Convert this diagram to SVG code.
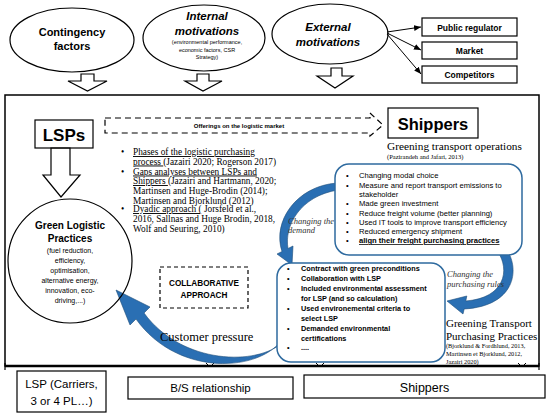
<svg xmlns="http://www.w3.org/2000/svg" width="550" height="415" viewBox="0 0 550 415">
<defs>
<style>
.sans{font-family:"Liberation Sans",Arial,sans-serif;}
.serif{font-family:"Liberation Serif","Times New Roman",serif;}
.b{font-weight:bold;}
.it{font-style:italic;}
.ln{fill:none;stroke:#000;stroke-width:1.2;}
.hollow{fill:#fff;stroke:#000;stroke-width:1.2;}
.rbox{fill:#fff;stroke:#2e6a9f;stroke-width:1.5;}
.blue{fill:#2a6fb3;stroke:#1f4e79;stroke-width:0.6;}
.u{text-decoration:underline;}
</style>
<marker id="ah" markerWidth="8" markerHeight="8" refX="7" refY="4" orient="auto" markerUnits="userSpaceOnUse">
<path d="M0,1 L7,4 L0,7 Z" fill="#000"/>
</marker>
</defs>
<rect width="550" height="415" fill="#fff"/>

<!-- top ellipses -->
<g id="contingency">
<ellipse cx="72" cy="40" rx="62" ry="32" class="ln"/>
<text x="72" y="36" text-anchor="middle" class="sans b" font-size="11">Contingency</text>
<text x="72" y="50" text-anchor="middle" class="sans b" font-size="11">factors</text>
</g>
<g id="internal">
<ellipse cx="204" cy="38" rx="61" ry="33" class="ln"/>
<text x="207" y="20" text-anchor="middle" class="sans b it" font-size="11.5">Internal</text>
<text x="207" y="35" text-anchor="middle" class="sans b it" font-size="11.5">motivations</text>
<text x="207" y="44" text-anchor="middle" class="sans" font-size="5.5">(environmental performance,</text>
<text x="207" y="51.5" text-anchor="middle" class="sans" font-size="5.5">economic factors, CSR</text>
<text x="207" y="59" text-anchor="middle" class="sans" font-size="5.5">Strategy)</text>
</g>
<g id="external">
<ellipse cx="330" cy="34" rx="58" ry="30" class="ln"/>
<text x="328" y="31" text-anchor="middle" class="sans b it" font-size="11.5">External</text>
<text x="328" y="46" text-anchor="middle" class="sans b it" font-size="11.5">motivations</text>
</g>
<g id="public-regulator">
<rect x="422" y="18" width="95" height="18" class="ln"/>
<text x="469.5" y="30.5" text-anchor="middle" class="sans b" font-size="8.5">Public regulator</text>
</g>
<g id="market">
<rect x="422" y="42" width="95" height="17" class="ln"/>
<text x="469.5" y="54" text-anchor="middle" class="sans b" font-size="8.5">Market</text>
</g>
<g id="competitors">
<rect x="422" y="66" width="95" height="17" class="ln"/>
<text x="469.5" y="78" text-anchor="middle" class="sans b" font-size="8.5">Competitors</text>
</g>

<!-- main frame -->
<g id="frame">
<rect x="5" y="95" width="534" height="271" fill="none" stroke="#000" stroke-width="1.5"/>
<line x1="5" y1="366" x2="539" y2="366" stroke="#000" stroke-width="2.5"/>
<path d="M5,363 L5,370 M539,363 L539,370" stroke="#000" stroke-width="1.2"/>
<path d="M206,363 L210,367 L214,363 M316,363 L320,367 L324,363 M518,363 L522,367 L526,363" fill="none" stroke="#000" stroke-width="1"/>
</g>

<g id="connectors">
<line x1="387" y1="32" x2="421" y2="27" stroke="#000" stroke-width="1" marker-end="url(#ah)"/>
<line x1="387" y1="33" x2="421" y2="50" stroke="#000" stroke-width="1" marker-end="url(#ah)"/>
<line x1="387" y1="34" x2="421" y2="74" stroke="#000" stroke-width="1" marker-end="url(#ah)"/>
<polygon class="hollow" points="81,74 94,74 94,81 107,81 87.5,91 68,81 81,81"/>
<polygon class="hollow" points="197,74 209,74 209,81 222,81 203,91 185,81 197,81"/>
<polygon class="hollow" points="331,68 342,68 342,76 353,76 335,88 317,76 331,76"/>
<polygon class="hollow" points="51,148 70,148 70,175 80,175 61,197 43,175 51,175"/>
<path d="M105,118 L370,118 L370,113 L383,125 L370,136 L370,133 L105,133 Z" fill="none" stroke="#000" stroke-width="1.2" stroke-dasharray="6,4"/>
<path class="blue" d="M337,183 C296,186 272,222 282,251.5 L277,254 L292,265 L293,246 L288,248.5 C284,226 300,196 338,190 Z"/>
<path class="blue" d="M498,252 C510,270 505,298 465.8,301 L466.8,296 L447,301 L463,314 L464.2,309 C515,306 520,270 507,250 Z"/>
<path class="blue" d="M283,338 C262,372 178,378 136,319 L130,325 L116,290 L150,307 L144,313 C182,365 258,366 283,342 Z"/>
</g>

<g id="offerings-label">
<text x="239" y="128" text-anchor="middle" class="sans b" font-size="6">Offerings on the logistic market</text>
</g>

<g id="lsps">
<rect x="35" y="120" width="58" height="28" class="ln"/>
<text x="64" y="141" text-anchor="middle" class="sans b" font-size="17">LSPs</text>
</g>

<g id="shippers">
<rect x="388" y="108" width="90" height="30" class="ln"/>
<text x="433" y="130" text-anchor="middle" class="sans b" font-size="16.5">Shippers</text>
<text x="387" y="150" class="serif" font-size="11.3">Greening  transport operations</text>
<text x="387" y="159" class="serif" font-size="6.5">(Pazirandeh and Jafari, 2013)</text>
</g>

<g id="green-logistic-practices">
<circle cx="70" cy="261" r="62" class="ln" fill="#fff"/>
<text x="70" y="229" text-anchor="middle" class="sans b" font-size="10">Green Logistic</text>
<text x="70" y="242" text-anchor="middle" class="sans b" font-size="10">Practices</text>
<g class="sans" font-size="7" text-anchor="middle">
<text x="70" y="253">(fuel reduction,</text>
<text x="70" y="263">efficiency,</text>
<text x="70" y="273">optimisation,</text>
<text x="70" y="283">alternative energy,</text>
<text x="70" y="293">innovation, eco-</text>
<text x="70" y="303">driving,...)</text>
</g>
</g>

<g id="literature" class="serif" font-size="9.3">
<text x="121" y="155">•</text>
<text x="133" y="155"><tspan class="u">Phases of the logistic purchasing</tspan></text>
<text x="133" y="164.5"><tspan class="u">process </tspan>(Jazairi 2020; Rogerson 2017)</text>
<text x="121" y="174.5">•</text>
<text x="133" y="174.5"><tspan class="u">Gaps analyses between LSPs and</tspan></text>
<text x="133" y="184"><tspan class="u">Shippers </tspan>(Jazairi and Hartmann,  2020;</text>
<text x="133" y="193.5">Martinsen and Huge-Brodin (2014);</text>
<text x="133" y="203.5">Martinsen and Bjorklund (2012)</text>
<text x="121" y="212">•</text>
<text x="133" y="212"><tspan class="u">Dyadic approach (</tspan> Jorsfeld et al.,</text>
<text x="133" y="221.5">2016, Sallnas and Huge Brodin, 2018,</text>
<text x="133" y="231.5">Wolf and Seuring, 2010)</text>
</g>

<g id="collaborative-approach">
<rect x="160" y="267" width="88" height="41" fill="none" stroke="#000" stroke-width="1.2" stroke-dasharray="4,3"/>
<text x="204" y="286" text-anchor="middle" class="sans b" font-size="8.2">COLLABORATIVE</text>
<text x="204" y="298" text-anchor="middle" class="sans b" font-size="8.2">APPROACH</text>
</g>

<g id="customer-pressure">
<text x="160" y="341" class="serif" font-size="12.5">Customer pressure</text>
</g>

<g id="changing-demand" class="serif it" font-size="8.5" fill="#333">
<text x="288" y="224">Changing the</text>
<text x="288" y="233">demand</text>
</g>

<g id="greening-operations-box">
<rect x="335" y="164" width="187" height="91" rx="14" class="rbox"/>
<g class="sans" font-size="7.6">
<text x="346" y="177.5">•</text><text x="359" y="177.5">Changing modal choice</text>
<text x="346" y="187.5">•</text><text x="359" y="187.5">Measure and report transport emissions to</text>
<text x="359" y="196.5">stakeholder</text>
<text x="346" y="206">•</text><text x="359" y="206">Made green investment</text>
<text x="346" y="215.5">•</text><text x="359" y="215.5">Reduce freight volume (better planning)</text>
<text x="346" y="225">•</text><text x="359" y="225">Used IT tools to improve transport efficiency</text>
<text x="346" y="234">•</text><text x="359" y="234">Reduced emergency shipment</text>
<text x="346" y="243">•</text><text x="359" y="243" class="b u">align their freight purchasing practices</text>
</g>
</g>

<g id="purchasing-practices-box">
<rect x="277" y="263" width="168" height="99" rx="14" class="rbox"/>
<g class="sans b" font-size="7.3">
<text x="287" y="270.5">•</text><text x="301" y="270.5">Contract with green preconditions</text>
<text x="287" y="280.5">•</text><text x="301" y="280.5"> Collaboration with LSP</text>
<text x="287" y="290.5">•</text><text x="301" y="290.5">Included environmental assessment</text>
<text x="301" y="300.5">for LSP (and so calculation)</text>
<text x="287" y="310.5">•</text><text x="301" y="310.5">Used environemental criteria to</text>
<text x="301" y="320.5">select LSP</text>
<text x="287" y="330.5">•</text><text x="301" y="330.5">Demanded environmental</text>
<text x="301" y="340.5">certifications</text>
<text x="287" y="350">•</text><text x="301" y="350">....</text>
</g>
</g>

<g id="changing-rules" class="serif it" font-size="8.5" fill="#333">
<text x="447" y="277">Changing the</text>
<text x="447" y="287">purchasing rules</text>
</g>

<g id="greening-purchasing">
<text x="446" y="327" class="serif" font-size="11">Greening Transport</text>
<text x="446" y="340" class="serif" font-size="11">Purchasing Practices</text>
<text x="446" y="348" class="serif" font-size="6.3">(Bjorklund  &amp; Fordhlund,  2013,</text>
<text x="446" y="356" class="serif" font-size="6.3">Martinsen et Bjorklund,  2012,</text>
<text x="446" y="364" class="serif" font-size="6.3">Jazairi 2020)</text>
</g>

<g id="lsp-bottom">
<rect x="17" y="371" width="89" height="41" class="ln"/>
<text x="61.5" y="388" text-anchor="middle" class="sans" font-size="11.5">LSP (Carriers,</text>
<text x="61.5" y="405" text-anchor="middle" class="sans" font-size="11.5">3 or 4 PL…)</text>
</g>
<g id="bs-relationship">
<rect x="128" y="377" width="165" height="22" class="ln"/>
<text x="210.5" y="392" text-anchor="middle" class="sans" font-size="11.5">B/S relationship</text>
</g>
<g id="shippers-bottom">
<rect x="304" y="375" width="241" height="23" class="ln"/>
<text x="424.5" y="391.5" text-anchor="middle" class="sans" font-size="12.5">Shippers</text>
</g>
</svg>
